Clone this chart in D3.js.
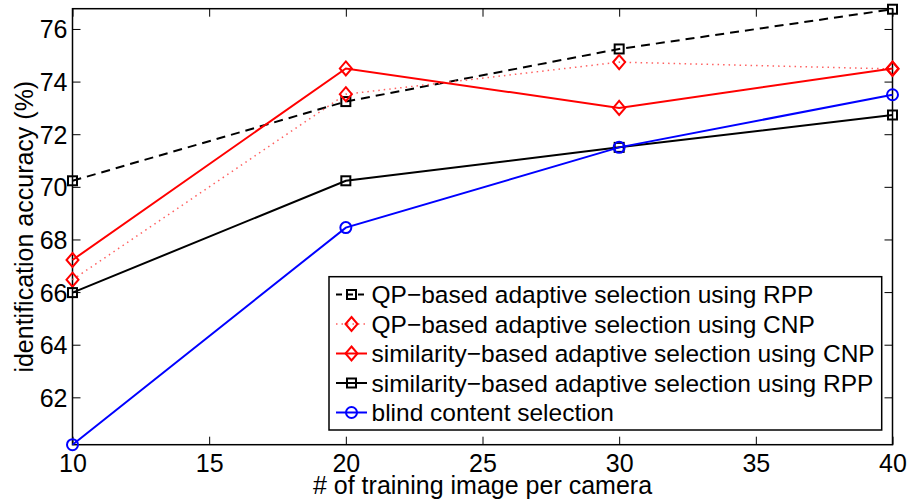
<!DOCTYPE html>
<html>
<head>
<meta charset="utf-8">
<script src="https://cdn.jsdelivr.net/npm/d3@7"></script>
<style>
  html, body { margin: 0; padding: 0; background: #fff; }
  svg { display: block; font-family: "Liberation Sans", Arial, Helvetica, sans-serif; }
</style>
</head>
<body>
<svg id="chart" width="909" height="503"></svg>
<script>
// Training images per camera (x values)
const trainingImages = [10, 20, 30, 40];

// Identification accuracy (%) for each selection method
const qpRpp      = [70.23, 73.24, 75.24, 76.75];
const qpCnp      = [66.47, 73.52, 74.74, 74.48];
const simCnp     = [67.22, 74.50, 73.00, 74.50];
const simRpp     = [65.98, 70.23, 71.50, 72.73];
const blind      = [60.20, 68.45, 71.50, 73.50];

const seriesNames = [
  "QP\u2212based adaptive selection using RPP",
  "QP\u2212based adaptive selection using CNP",
  "similarity\u2212based adaptive selection using CNP",
  "similarity\u2212based adaptive selection using RPP",
  "blind content selection"
];

const xTicks = [10, 15, 20, 25, 30, 35, 40];
const yTicks = [62, 64, 66, 68, 70, 72, 74, 76];

const xLabel = "# of training image per camera";
const yLabel = "identification accuracy (%)";

// Line / marker styling per series
const styles = [
  { values: qpRpp,  color: "#000000", width: 2,   dash: "9,6",   marker: "square",  mcolor: "#000000" },
  { values: qpCnp,  color: "#ff6060", width: 1.5, dash: "1.5,4", marker: "diamond", mcolor: "#ff0000" },
  { values: simCnp, color: "#ff0000", width: 2,   dash: null,    marker: "diamond", mcolor: "#ff0000" },
  { values: simRpp, color: "#000000", width: 2,   dash: null,    marker: "square",  mcolor: "#000000" },
  { values: blind,  color: "#0000ff", width: 2,   dash: null,    marker: "circle",  mcolor: "#0000ff" }
];

const svg = d3.select("#chart");
const plot = { left: 72.5, right: 892.5, top: 8.7, bottom: 444.7 };

const x = d3.scaleLinear().domain([10, 40]).range([plot.left, plot.right]);
const y = d3.scaleLinear().domain([60.2, 76.77]).range([plot.bottom, plot.top]);

const tickLen = 8;
const fontSize = 25;
const legendFontSize = 24.5;

// Axes with inward ticks on all four sides
const gx = svg.append("g").attr("transform", `translate(0,${plot.bottom})`)
  .call(d3.axisBottom(x).tickValues(xTicks).tickSize(-tickLen).tickPadding(10).tickFormat(d3.format("d")));
const gxTop = svg.append("g").attr("transform", `translate(0,${plot.top})`)
  .call(d3.axisTop(x).tickValues(xTicks).tickSize(-tickLen).tickFormat(""));
const gy = svg.append("g").attr("transform", `translate(${plot.left},0)`)
  .call(d3.axisLeft(y).tickValues(yTicks).tickSize(-tickLen).tickPadding(5).tickFormat(d3.format("d")));
const gyRight = svg.append("g").attr("transform", `translate(${plot.right},0)`)
  .call(d3.axisRight(y).tickValues(yTicks).tickSize(-tickLen).tickFormat(""));

[gx, gxTop, gy, gyRight].forEach(g => {
  g.select(".domain").remove();
  g.selectAll(".tick line").attr("stroke", "#000").attr("stroke-width", 1);
  g.selectAll(".tick text")
    .attr("fill", "#000")
    .style("font-size", fontSize + "px")
    .style("font-family", "'Liberation Sans', Arial, Helvetica, sans-serif");
});
gx.selectAll(".tick text").attr("dy", "0.71em");
gy.selectAll(".tick text").attr("dy", "0.36em");

// Axes box
svg.append("rect")
  .attr("x", plot.left).attr("y", plot.top)
  .attr("width", plot.right - plot.left).attr("height", plot.bottom - plot.top)
  .attr("fill", "none").attr("stroke", "#000").attr("stroke-width", 1.5);

// Axis titles
svg.append("text")
  .attr("x", (plot.left + plot.right) / 2).attr("y", 494)
  .attr("text-anchor", "middle")
  .style("font-size", fontSize + "px")
  .text(xLabel);

svg.append("text")
  .attr("transform", `translate(33,${(plot.top + plot.bottom) / 2}) rotate(-90)`)
  .attr("text-anchor", "middle")
  .style("font-size", fontSize + "px")
  .text(yLabel);

// Marker drawing helper
function drawMarker(g, type, cx, cy, color) {
  if (type === "square") {
    g.append("rect").attr("x", cx - 4.5).attr("y", cy - 4.5).attr("width", 9).attr("height", 9)
      .attr("fill", "none").attr("stroke", color).attr("stroke-width", 2);
  } else if (type === "diamond") {
    g.append("path").attr("d", `M${cx},${cy - 7}L${cx + 6},${cy}L${cx},${cy + 7}L${cx - 6},${cy}Z`)
      .attr("fill", "none").attr("stroke", color).attr("stroke-width", 2);
  } else {
    g.append("circle").attr("cx", cx).attr("cy", cy).attr("r", 5.5)
      .attr("fill", "none").attr("stroke", color).attr("stroke-width", 2);
  }
}

const line = d3.line().x((d, i) => x(trainingImages[i])).y(d => y(d));

const dataG = svg.append("g");
styles.forEach(s => {
  const p = dataG.append("path")
    .attr("d", line(s.values))
    .attr("fill", "none")
    .attr("stroke", s.color)
    .attr("stroke-width", s.width);
  if (s.dash) p.attr("stroke-dasharray", s.dash);
  s.values.forEach((v, i) => drawMarker(dataG, s.marker, x(trainingImages[i]), y(v), s.mcolor));
});

// Legend
const legend = { left: 329, top: 276.7, right: 881.7, bottom: 430 };
svg.append("rect")
  .attr("x", legend.left).attr("y", legend.top)
  .attr("width", legend.right - legend.left).attr("height", legend.bottom - legend.top)
  .attr("fill", "#fff").attr("stroke", "#000").attr("stroke-width", 1.5);

const rowY0 = 294.5, rowStep = 29.5;
styles.forEach((s, i) => {
  const cy = rowY0 + i * rowStep;
  const g = svg.append("g");
  const l = g.append("line")
    .attr("x1", 336).attr("x2", 367).attr("y1", cy).attr("y2", cy)
    .attr("stroke", s.color).attr("stroke-width", s.width);
  if (s.dash) l.attr("stroke-dasharray", s.dash === "9,6" ? "6,5" : s.dash);
  drawMarker(g, s.marker, 351.5, cy, s.mcolor);
  g.append("text")
    .attr("x", 371.5).attr("y", cy).attr("dy", "0.36em")
    .style("font-size", legendFontSize + "px")
    .text(seriesNames[i]);
});
</script>
</body>
</html>
